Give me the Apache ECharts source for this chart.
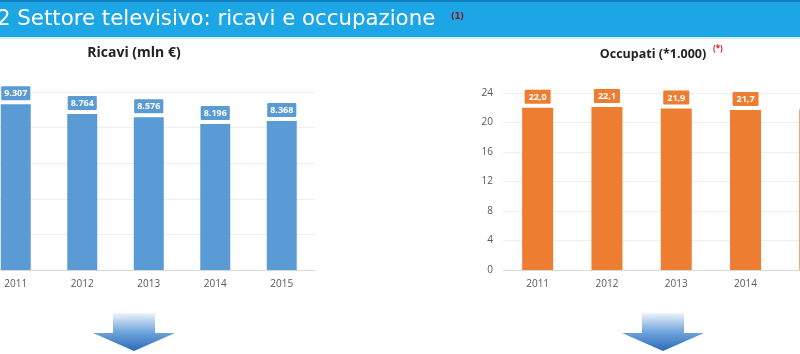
<!DOCTYPE html>
<html>
<head>
<meta charset="utf-8">
<script src="https://cdn.jsdelivr.net/npm/echarts@6/dist/echarts.min.js"></script>
<style>
  html, body { margin: 0; padding: 0; background: #fff; }
  #main { width: 800px; height: 354px; }
</style>
</head>
<body>
<div id="main"></div>
<script>
// dati
const anni = ['2011', '2012', '2013', '2014', '2015'];
const ricavi = [9307, 8764, 8576, 8196, 8368];       // mln €
const occupati = [22.0, 22.1, 21.9, 21.7, 21.8];     // *1.000 (2015 tagliato nell'immagine)
const tickOccupati = [0, 4, 8, 12, 16, 20, 24];

const BLU = '#5b9bd5';
const ARANCIO = '#ed7d31';
const fontBase = '"Open Sans", "DejaVu Sans", sans-serif';

function migliaia(v) {
  return String(v).replace(/\B(?=(\d{3})+(?!\d))/g, '.');
}
function virgola(v) {
  return v.toFixed(1).replace('.', ',');
}

const chart = echarts.init(document.getElementById('main'));

function freccia(cx) {
  return {
    type: 'polygon',
    shape: {
      points: [
        [cx - 21, 313], [cx + 21, 313], [cx + 21, 333], [cx + 41, 333],
        [cx, 351], [cx - 41, 333], [cx - 21, 333]
      ]
    },
    style: {
      fill: new echarts.graphic.LinearGradient(0, 0, 0, 1, [
        { offset: 0, color: '#eef4fb' },
        { offset: 0.5, color: '#6fa4dc' },
        { offset: 1, color: '#2a6cb6' }
      ])
    }
  };
}

const option = {
  animation: false,
  textStyle: { fontFamily: fontBase },
  graphic: [
    // barra del titolo
    { type: 'rect', shape: { x: 0, y: 0, width: 800, height: 37 }, style: { fill: '#1da6e5' } },
    { type: 'rect', shape: { x: 0, y: 0, width: 800, height: 2 }, style: { fill: '#0f7fbf' } },
    { type: 'rect', shape: { x: 0, y: 37, width: 800, height: 2 }, style: { fill: '#d6eefa' } },
    {
      type: 'text', x: -3, y: 19,
      style: {
        text: '2 Settore televisivo: ricavi e occupazione',
        fill: '#ffffff', font: '21.3px "DejaVu Sans", Verdana, sans-serif',
        verticalAlign: 'middle'
      }
    },
    {
      type: 'text', x: 451, y: 17,
      style: { text: '(1)', fill: '#8e1320', font: 'bold 8px "DejaVu Sans", sans-serif', verticalAlign: 'middle' }
    },
    // titoli dei grafici
    {
      type: 'text', x: 134, y: 53,
      style: { text: 'Ricavi (mln €)', fill: '#222', font: 'bold 14px ' + fontBase, align: 'center', verticalAlign: 'middle' }
    },
    {
      type: 'text', x: 653, y: 54,
      style: { text: 'Occupati (*1.000)', fill: '#222', font: 'bold 12.5px ' + fontBase, align: 'center', verticalAlign: 'middle' }
    },
    {
      type: 'text', x: 713, y: 49,
      style: { text: '(*)', fill: '#d02020', font: 'bold 8px ' + fontBase, verticalAlign: 'middle' }
    },
    freccia(134),
    freccia(663)
  ],
  grid: [
    { left: -17.5, top: 92, width: 332.5, height: 178, outerBoundsMode: 'none', containLabel: false },
    { left: 503, top: 93, width: 346.5, height: 177, outerBoundsMode: 'none', containLabel: false }
  ],
  xAxis: [
    {
      gridIndex: 0, type: 'category', data: anni,
      axisTick: { show: false },
      axisLine: { lineStyle: { color: '#d9d9d9' } },
      axisLabel: { color: '#595959', fontSize: 10, margin: 9 }
    },
    {
      gridIndex: 1, type: 'category', data: anni,
      axisTick: { show: false },
      axisLine: { lineStyle: { color: '#d9d9d9' } },
      axisLabel: { color: '#595959', fontSize: 10, margin: 9 }
    }
  ],
  yAxis: [
    {
      gridIndex: 0, type: 'value', min: 0, max: 10000, interval: 2000,
      axisLabel: { show: false }, axisLine: { show: false }, axisTick: { show: false },
      splitLine: { lineStyle: { color: '#eeeeee' } }
    },
    {
      gridIndex: 1, type: 'value', min: tickOccupati[0], max: tickOccupati[tickOccupati.length - 1], interval: 4,
      axisLabel: { color: '#595959', fontSize: 10, margin: 10 },
      axisLine: { show: false }, axisTick: { show: false },
      splitLine: { lineStyle: { color: '#eeeeee' } }
    }
  ],
  series: [
    {
      type: 'bar', xAxisIndex: 0, yAxisIndex: 0, data: ricavi,
      barWidth: 30,
      itemStyle: { color: BLU },
      label: {
        show: true, position: 'top', distance: 4,
        formatter: p => migliaia(p.value),
        color: '#fff', fontSize: 9, fontWeight: 'bold',
        backgroundColor: BLU, padding: [3, 3, 2, 3], borderRadius: 1
      }
    },
    {
      type: 'bar', xAxisIndex: 1, yAxisIndex: 1, data: occupati,
      barWidth: 31,
      itemStyle: { color: ARANCIO },
      label: {
        show: true, position: 'top', distance: 4,
        formatter: p => virgola(p.value),
        color: '#fff', fontSize: 9, fontWeight: 'bold',
        backgroundColor: ARANCIO, padding: [3, 4, 2, 4], borderRadius: 1
      }
    }
  ]
};

chart.setOption(option);
</script>
</body>
</html>
